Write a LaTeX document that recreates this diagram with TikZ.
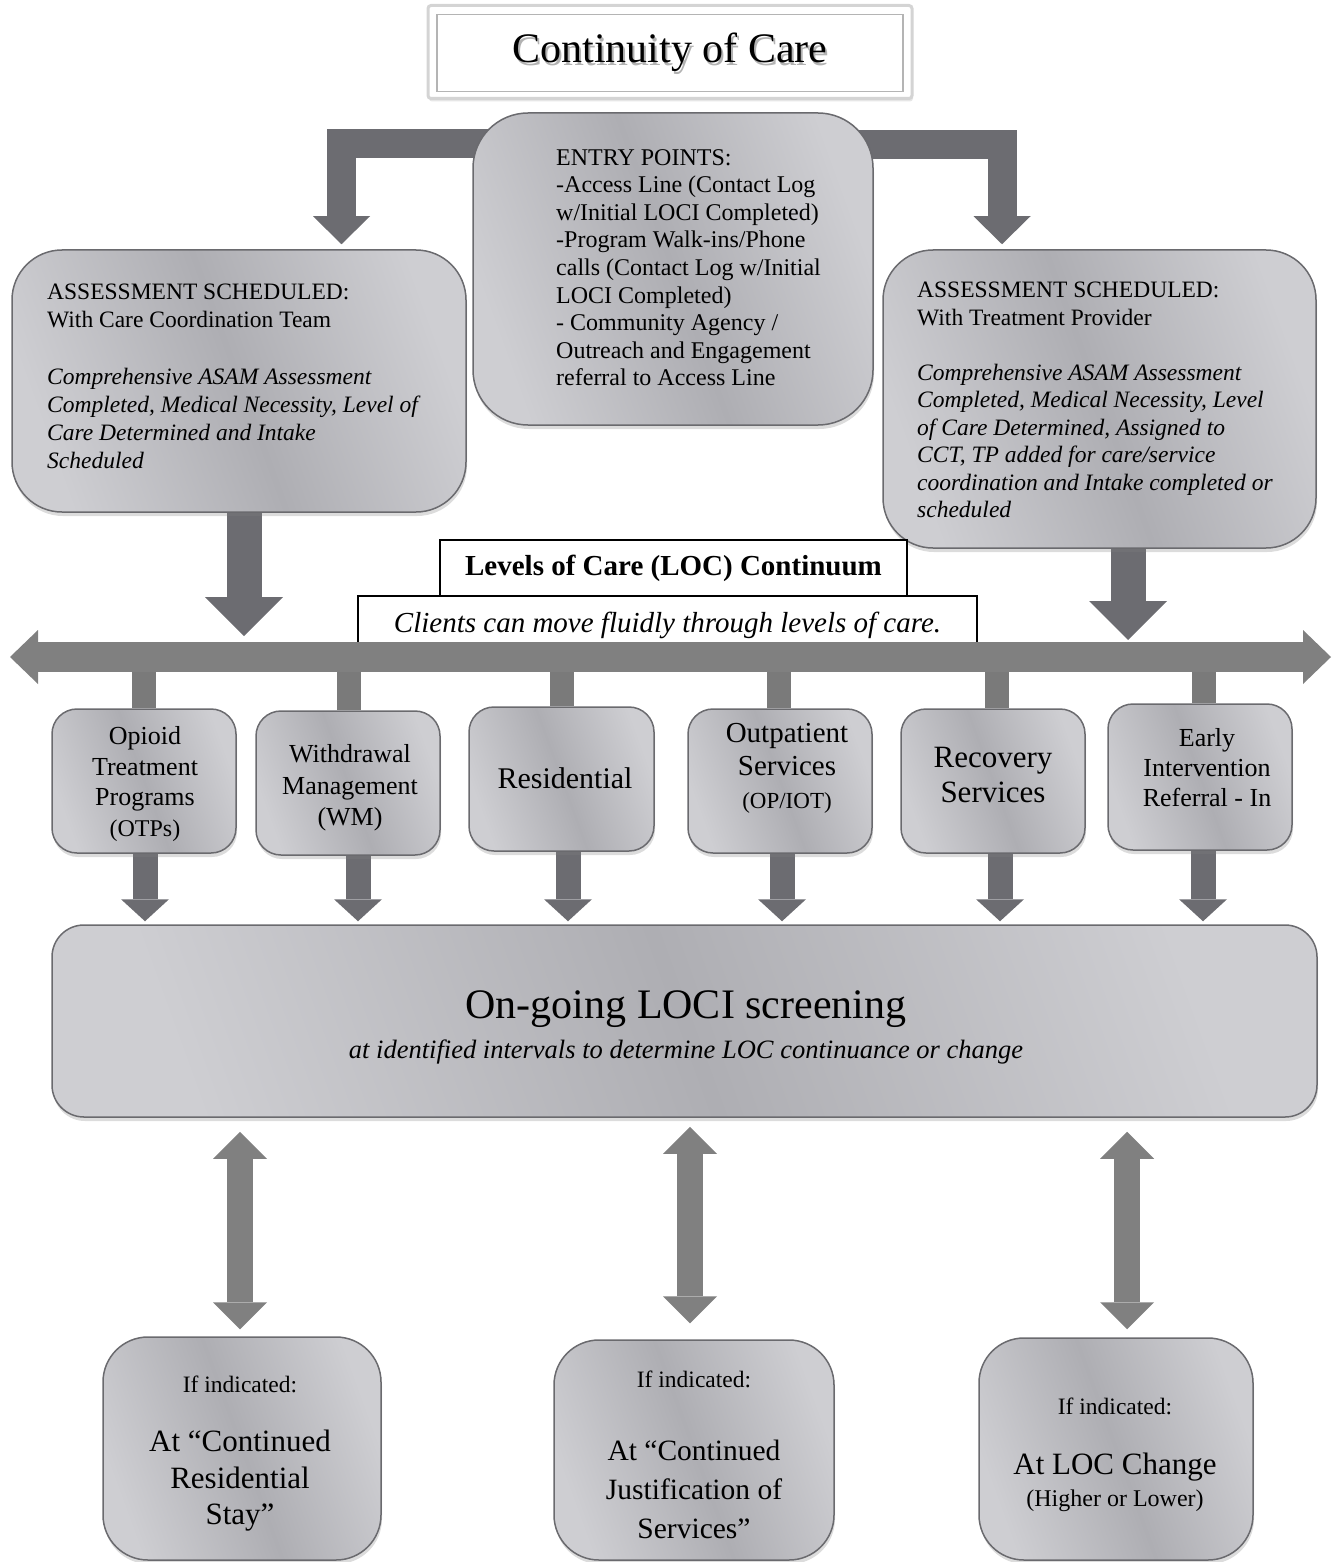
\documentclass[tikz,border=0pt]{standalone}
\usepackage{fontspec}
\setmainfont{Liberation Serif}
\usetikzlibrary{arrows.meta,shadows,backgrounds,calc}

\definecolor{boxlight}{RGB}{206,206,210}
\definecolor{boxdark}{RGB}{174,174,179}
\definecolor{boxline}{RGB}{106,106,110}
\definecolor{arrowdark}{RGB}{108,108,113}
\definecolor{arrowmid}{RGB}{128,128,128}
\definecolor{frameouter}{RGB}{212,212,212}
\definecolor{frameinner}{RGB}{180,180,180}

\newcommand{\fsz}[2]{\fontsize{#1}{#2}\selectfont}

\tikzset{
  panel/.style={draw=boxline, line width=1.5pt, rounded corners=#1,
    left color=boxlight, right color=boxlight, middle color=boxdark,
    shading angle=110,
    drop shadow={shadow xshift=1pt, shadow yshift=-4pt, opacity=0.28},
    inner sep=0pt},
  panel/.default=25pt,
  whitebox/.style={draw=black, line width=1.2pt, fill=white, inner sep=0pt},
  txt/.style={inner sep=0pt, align=center},
  elbowarrow/.style={draw=arrowdark, line width=29pt,
    -{Triangle[width=57pt, length=28pt, line width=0pt]}},
  dropL/.style={draw=arrowdark, line width=35pt,
    -{Triangle[width=78pt, length=39pt, line width=0pt]}},
  feedarrow/.style={draw=arrowdark, line width=25pt,
    -{Triangle[width=48pt, length=22pt, line width=0pt]}},
  stub/.style={draw=arrowmid!95!black, line width=24pt},
  busarrow/.style={draw=arrowmid, line width=30pt,
    {Triangle[width=54pt, length=28pt, line width=0pt]}-{Triangle[width=54pt, length=28pt, line width=0pt]}},
  twoway/.style={draw=arrowmid, line width=26pt,
    {Triangle[width=54pt, length=27pt, line width=0pt]}-{Triangle[width=54pt, length=27pt, line width=0pt]}}
}

\begin{document}
\begin{tikzpicture}[x=1pt, y=-1pt]
\useasboundingbox (0,0) rectangle (1333,1562);

% ---- title ----
\node[draw=frameouter, line width=3pt, fill=white, rounded corners=3pt,
      minimum width=484pt, minimum height=93pt,
      drop shadow={shadow xshift=1pt, shadow yshift=-3pt, opacity=0.2}] (titleframe) at (670,52) {};
\node[draw=frameinner, line width=1.2pt, minimum width=466pt, minimum height=77pt] (titlebox) at (670,53) {};
\node[txt, font=\fsz{42}{48}, text=black!30] (titleshade) at (672,55) {Continuity of Care};
\node[txt, font=\fsz{42}{48}] (titletext) at (670,52) {Continuity of Care};

% ---- entry and assessment boxes ----
\node[panel=55pt, minimum width=400pt, minimum height=312pt] (entry) at (673,269) {};
\node[txt, align=left, anchor=north west, font=\fsz{24}{27.6}] (entrytxt) at (556,149)
  {ENTRY POINTS:\\-Access Line (Contact Log\\w/Initial LOCI Completed)\\-Program Walk-ins/Phone\\calls (Contact Log w/Initial\\LOCI Completed)\\- Community Agency /\\Outreach and Engagement\\referral to Access Line};

\node[panel=50pt, minimum width=454pt, minimum height=262pt] (leftbox) at (239,381) {};
\node[txt, align=left, anchor=north west, font=\fsz{23.5}{28.2}] (lefttxt) at (47,284)
  {ASSESSMENT SCHEDULED:\\With Care Coordination Team\\[28.2pt]
   \itshape Comprehensive ASAM Assessment\\
   \itshape Completed, Medical Necessity, Level of\\
   \itshape Care Determined and Intake\\
   \itshape Scheduled};

\node[panel=50pt, minimum width=433pt, minimum height=298pt] (rightbox) at (1099.5,399) {};
\node[txt, align=left, anchor=north west, font=\fsz{23.5}{27.5}] (righttxt) at (917,282)
  {ASSESSMENT SCHEDULED:\\With Treatment Provider\\[27.5pt]
   \itshape Comprehensive ASAM Assessment\\
   \itshape Completed, Medical Necessity, Level\\
   \itshape of Care Determined, Assigned to\\
   \itshape CCT, TP added for care/service\\
   \itshape coordination and Intake completed or\\
   \itshape scheduled};

% ---- continuum header ----
\node[whitebox, minimum width=467pt, minimum height=56pt, font=\fsz{29}{34}\bfseries] (levels) at (673.5,568)
  {Levels of Care (LOC) Continuum};
\node[whitebox, minimum width=619pt, minimum height=58pt, font=\fsz{29}{34}\itshape] (clients) at (667.5,625)
  {Clients can move fluidly through levels of care.};

% ---- two-way bus ----
\coordinate (barW) at (10,657);
\coordinate (barE) at (1331,657);
\draw[busarrow] (barW) -- (barE);

% ---- levels of care ----
\node[panel, minimum width=184pt, minimum height=144pt] (otp) at (144,781) {};
\node[panel, minimum width=184pt, minimum height=144pt] (wm)  at (348,783) {};
\node[panel, minimum width=185pt, minimum height=144pt] (res) at (561.5,779) {};
\node[panel, minimum width=184pt, minimum height=144pt] (op)  at (780,781) {};
\node[panel, minimum width=184pt, minimum height=144pt] (rec) at (993,781) {};
\node[panel, minimum width=184pt, minimum height=146pt] (ei)  at (1200,777) {};

\node[txt, font=\fsz{26}{30.5}] (otptxt) at (145,784) {Opioid\\Treatment\\Programs\\\fsz{24}{28}(OTPs)};
\node[txt, font=\fsz{26}{31.5}] (wmtxt) at (350,788) {Withdrawal\\Management\\(WM)};
\node[txt, font=\fsz{30}{34}] (restxt) at (565,778) {Residential};
\node[txt, font=\fsz{29}{33}] (optxt) at (787,768.5) {Outpatient\\Services\\\fsz{23}{28}(OP/IOT)};
\node[txt, font=\fsz{31}{35}] (rectxt) at (993,775) {Recovery\\Services};
\node[txt, font=\fsz{26}{30}] (eitxt) at (1207,768) {Early\\Intervention\\Referral - In};

% ---- screening ----
\node[panel=32pt, minimum width=1265pt, minimum height=192pt] (loci) at (684.5,1021) {};
\node[txt, font=\fsz{42}{40}] (locitxt) at (686,1027)
  {On-going LOCI screening\\\fsz{26.5}{30}\itshape at identified intervals to determine LOC continuance or change};

% ---- review points ----
\node[panel=45pt, minimum width=278pt, minimum height=223pt] (bot1) at (242,1448.5) {};
\node[panel=45pt, minimum width=280pt, minimum height=220pt] (bot2) at (694,1450) {};
\node[panel=45pt, minimum width=274pt, minimum height=222pt] (bot3) at (1116,1449) {};

\node[txt, font=\fsz{31}{36.5}] (bot1txt) at (240,1454)
  {\fsz{23.5}{28}If indicated:\\[22.5pt]At “Continued\\Residential\\Stay”};
\node[txt, font=\fsz{29.5}{39}] (bot2txt) at (694,1455)
  {\fsz{23.5}{28}If indicated:\\[34pt]At “Continued\\Justification of\\Services”};
\node[txt, font=\fsz{31}{32}] (bot3txt) at (1115,1455)
  {\fsz{23.5}{28}If indicated:\\[28pt]At LOC Change\\\fsz{24}{28}(Higher or Lower)};

% ---- connectors ----
\begin{scope}[on background layer]
  % entry points feed both assessment paths
  \draw[elbowarrow] ($(entry.north west)+(17,31.5)$) -| ($(leftbox.north)+(102.5,-5)$);
  \draw[elbowarrow] ($(entry.north east)+(-17,32)$) -| ($(rightbox.north)+(-97.5,-5)$);
  % assessments drop onto the continuum
  \draw[dropL] ($(leftbox.south)+(5,0)$) -- ($(leftbox.south |- barW)+(5,-21)$);
  \draw[dropL] ($(rightbox.south)+(28.5,0)$) -- ($(rightbox.south |- barW)+(28.5,-17)$);
  % bus to each level of care
  \draw[stub] (otp.north |- barW) -- (otp.north);
  \draw[stub] ($(wm.north |- barW)+(1,0)$) -- ($(wm.north)+(1,0)$);
  \draw[stub] ($(res.north |- barW)+(0.5,0)$) -- ($(res.north)+(0.5,0)$);
  \draw[stub] ($(op.north |- barW)+(-1,0)$) -- ($(op.north)+(-1,0)$);
  \draw[stub] ($(rec.north |- barW)+(4,0)$) -- ($(rec.north)+(4,0)$);
  \draw[stub] ($(ei.north |- barW)+(3.5,0)$) -- ($(ei.north)+(3.5,0)$);
  % each level of care feeds the screening
  \draw[feedarrow] ($(otp.south)+(1,0)$) -- ($(otp.south |- loci.north)+(1,-3)$);
  \draw[feedarrow] ($(wm.south)+(10,0)$) -- ($(wm.south |- loci.north)+(10,-3)$);
  \draw[feedarrow] ($(res.south)+(6.5,0)$) -- ($(res.south |- loci.north)+(6.5,-3)$);
  \draw[feedarrow] ($(op.south)+(2,0)$) -- ($(op.south |- loci.north)+(2,-3)$);
  \draw[feedarrow] ($(rec.south)+(7,0)$) -- ($(rec.south |- loci.north)+(7,-3)$);
  \draw[feedarrow] ($(ei.south)+(3,0)$) -- ($(ei.south |- loci.north)+(3,-3)$);
  % screening <-> review points
  \draw[twoway] ($(bot1.north |- loci.south)+(-2,14)$) -- ($(bot1.north)+(-2,-7)$);
  \draw[twoway] ($(bot2.north |- loci.south)+(-4,9)$) -- ($(bot2.north)+(-4,-16)$);
  \draw[twoway] ($(bot3.north |- loci.south)+(11,14)$) -- ($(bot3.north)+(11,-8)$);
\end{scope}
\end{tikzpicture}
\end{document}
